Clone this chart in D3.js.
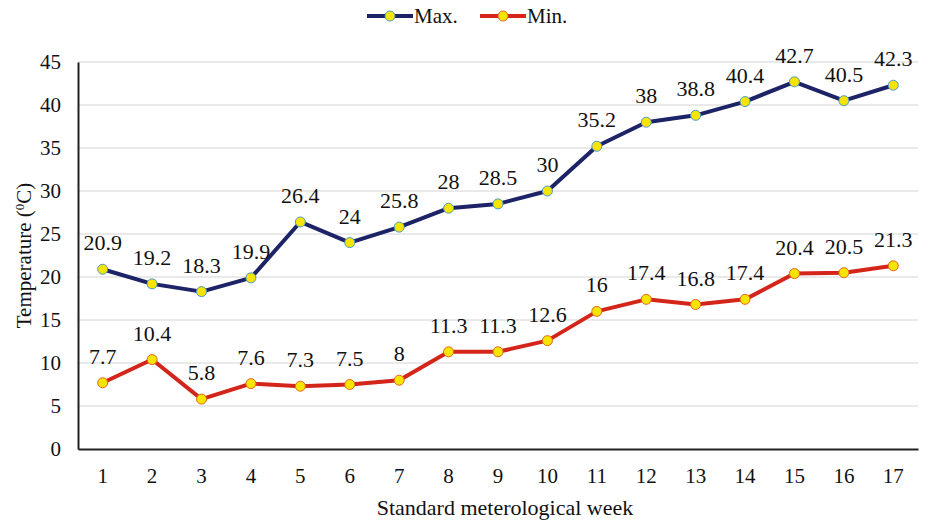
<!DOCTYPE html>
<html>
<head>
<meta charset="utf-8">
<script src="https://cdn.jsdelivr.net/npm/d3@7"></script>
<style>
body { margin: 0; background: #fff; }
text { fill: #111; }
</style>
</head>
<body>
<svg id="chart" width="928" height="523"></svg>
<script>
let weeks = d3.range(1, 18);
let maxTemp = [20.9, 19.2, 18.3, 19.9, 26.4, 24, 25.8, 28, 28.5, 30, 35.2, 38, 38.8, 40.4, 42.7, 40.5, 42.3];
let minTemp = [7.7, 10.4, 5.8, 7.6, 7.3, 7.5, 8, 11.3, 11.3, 12.6, 16, 17.4, 16.8, 17.4, 20.4, 20.5, 21.3];
let yTicks = [0, 5, 10, 15, 20, 25, 30, 35, 40, 45];

let series = [
	{ name: "Max.", values: maxTemp, color: "#1c2366", ring: "#4a9ac8" },
	{ name: "Min.", values: minTemp, color: "#d4251b", ring: "#e2661c" }
];

let serif = "'Liberation Serif', 'Times New Roman', serif";

let svg = d3.select("svg#chart"),
	margin = { top: 62, right: 10, bottom: 74, left: 78 },
	width = 928 - margin.left - margin.right,
	height = 523 - margin.top - margin.bottom,
	g = svg.append("g").attr("transform", "translate(" + margin.left + "," + margin.top + ")");

let x = d3.scaleBand().domain(weeks).range([0, width]);
let y = d3.scaleLinear().domain([0, 45]).range([height, 0]);
let cx = function(d, i) { return x(weeks[i]) + x.bandwidth() / 2; };

// gridlines
g.selectAll("line.grid")
	.data(yTicks.slice(1))
	.enter().append("line")
	.attr("class", "grid")
	.attr("x1", 0).attr("x2", width)
	.attr("y1", d => y(d)).attr("y2", d => y(d))
	.attr("stroke", "#d4d4d4").attr("stroke-width", 1);

// axes
let yAxis = g.append("g")
	.call(d3.axisLeft(y).tickValues(yTicks).tickSize(0).tickPadding(17));
yAxis.select(".domain").attr("stroke", "#222").attr("stroke-width", 2);
yAxis.selectAll("text").style("font-family", serif).style("font-size", "21px").attr("fill", "#111");

let xAxis = g.append("g")
	.attr("transform", "translate(0," + height + ")")
	.call(d3.axisBottom(x).tickSize(0).tickPadding(19));
xAxis.select(".domain").attr("stroke", "#222").attr("stroke-width", 2);
xAxis.selectAll("text").style("font-family", serif).style("font-size", "21px").attr("fill", "#111");

// lines, markers, labels
let line = d3.line().x(cx).y(d => y(d));

series.forEach(function(s) {
	g.append("path")
		.datum(s.values)
		.attr("d", line)
		.attr("fill", "none")
		.attr("stroke", s.color)
		.attr("stroke-width", 4)
		.attr("stroke-linejoin", "round");

	g.selectAll(null)
		.data(s.values)
		.enter().append("circle")
		.attr("cx", cx)
		.attr("cy", d => y(d))
		.attr("r", 5)
		.attr("fill", "#f7e400")
		.attr("stroke", s.ring)
		.attr("stroke-width", 1);

	g.selectAll(null)
		.data(s.values)
		.enter().append("text")
		.attr("x", cx)
		.attr("y", d => y(d) - 19)
		.attr("text-anchor", "middle")
		.style("font-family", serif)
		.style("font-size", "22px")
		.text(d => d);
});

// axis titles
svg.append("text")
	.attr("transform", "translate(31," + (margin.top + height / 2) + ") rotate(-90)")
	.attr("text-anchor", "middle")
	.style("font-family", serif)
	.style("font-size", "21px")
	.html("Temperature (<tspan baseline-shift='super' font-size='13px'>0</tspan>C)");

svg.append("text")
	.attr("x", 505)
	.attr("y", 515)
	.attr("text-anchor", "middle")
	.style("font-family", serif)
	.style("font-size", "22px")
	.text("Standard meterological week");

// legend
let legend = svg.append("g").attr("transform", "translate(367,16)");
let item = legend.selectAll("g")
	.data(series)
	.enter().append("g")
	.attr("transform", (d, i) => "translate(" + i * 113 + ",0)");
item.append("line")
	.attr("x1", 0).attr("x2", 46)
	.attr("stroke", d => d.color).attr("stroke-width", 4);
item.append("circle")
	.attr("cx", 23).attr("r", 5)
	.attr("fill", "#f7e400")
	.attr("stroke", d => d.ring);
item.append("text")
	.attr("x", 47).attr("y", 7)
	.style("font-family", serif)
	.style("font-size", "21px")
	.text(d => d.name);
</script>
</body>
</html>
